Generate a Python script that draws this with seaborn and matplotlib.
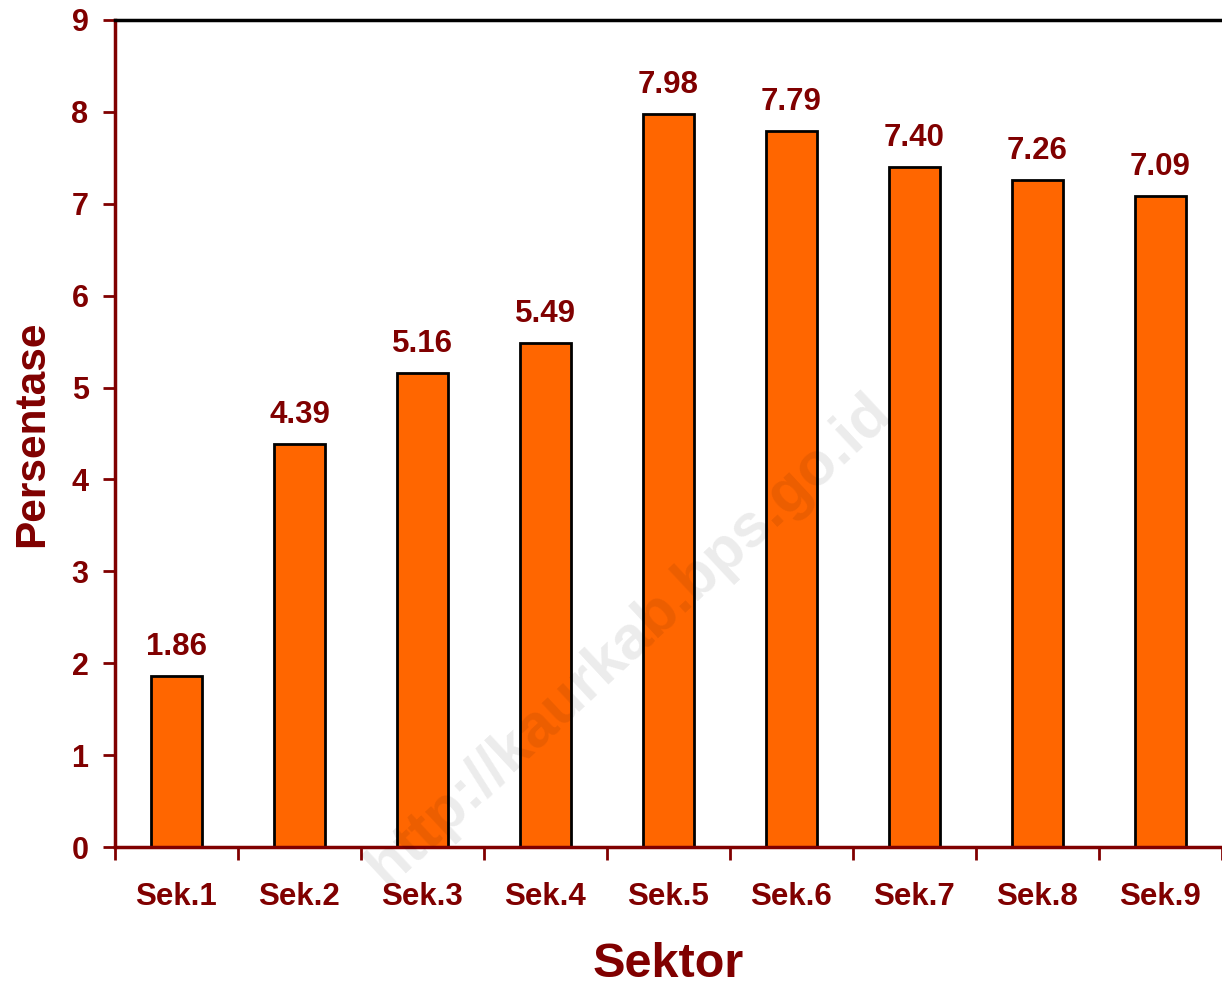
import numpy as np
import pandas as pd
import seaborn as sns
import matplotlib.pyplot as plt

sektor = ["Sek.1", "Sek.2", "Sek.3", "Sek.4", "Sek.5", "Sek.6", "Sek.7", "Sek.8", "Sek.9"]
persen = [1.86, 4.39, 5.16, 5.49, 7.98, 7.79, 7.40, 7.26, 7.09]

dark_red = "#800000"
orange = "#FF6600"

sns.set_style("white")
plt.rcParams["font.family"] = ["Liberation Sans", "DejaVu Sans"]
plt.rcParams["font.weight"] = "bold"

df = pd.DataFrame({"Sektor": sektor, "Persentase": persen})

fig = plt.figure(figsize=(12.22, 9.85), dpi=100)
ax = fig.add_axes([0.0941, 0.140, 0.9059, 0.8397])

sns.barplot(data=df, x="Sektor", y="Persentase", color=orange, width=0.41,
            edgecolor="black", linewidth=2, saturation=1, ax=ax)

for i, v in enumerate(persen):
    ax.annotate(f"{v:.2f}", (i, v), xytext=(0, 10), textcoords="offset points",
                ha="center", va="bottom", color=dark_red, fontsize=22.5,
                fontweight="bold")

ax.set_xlim(-0.5, 8.5)
ax.set_ylim(0, 9)
ax.set_yticks(range(0, 10))
ax.set_xticks(np.arange(-0.5, 9, 1), minor=True)
ax.tick_params(axis="x", which="major", length=0, pad=25, labelsize=22.5,
               labelcolor=dark_red)
ax.tick_params(axis="x", which="minor", length=9, width=2, color=dark_red,
               direction="out", bottom=True)
ax.tick_params(axis="y", length=9, width=2, color=dark_red, pad=10,
               labelsize=22, labelcolor=dark_red, left=True)
for lab in ax.get_xticklabels() + ax.get_yticklabels():
    lab.set_fontweight("bold")

ax.set_xlabel("Sektor", fontsize=35, fontweight="bold", color=dark_red, labelpad=22)
ax.set_ylabel("Persentase", fontsize=30.5, fontweight="bold", color=dark_red, labelpad=14)

ax.spines["left"].set_color(dark_red)
ax.spines["bottom"].set_color(dark_red)
ax.spines["left"].set_linewidth(2.5)
ax.spines["bottom"].set_linewidth(2.5)
ax.spines["top"].set_color("black")
ax.spines["top"].set_linewidth(2.5)
ax.spines["right"].set_visible(False)

fig.text(0.515, 0.35, "http://kaurkab.bps.go.id", rotation=43, ha="center",
         va="center", fontsize=44, fontweight="bold", color="black", alpha=0.08,
         zorder=10)

fig.savefig("out.png", dpi=100)
